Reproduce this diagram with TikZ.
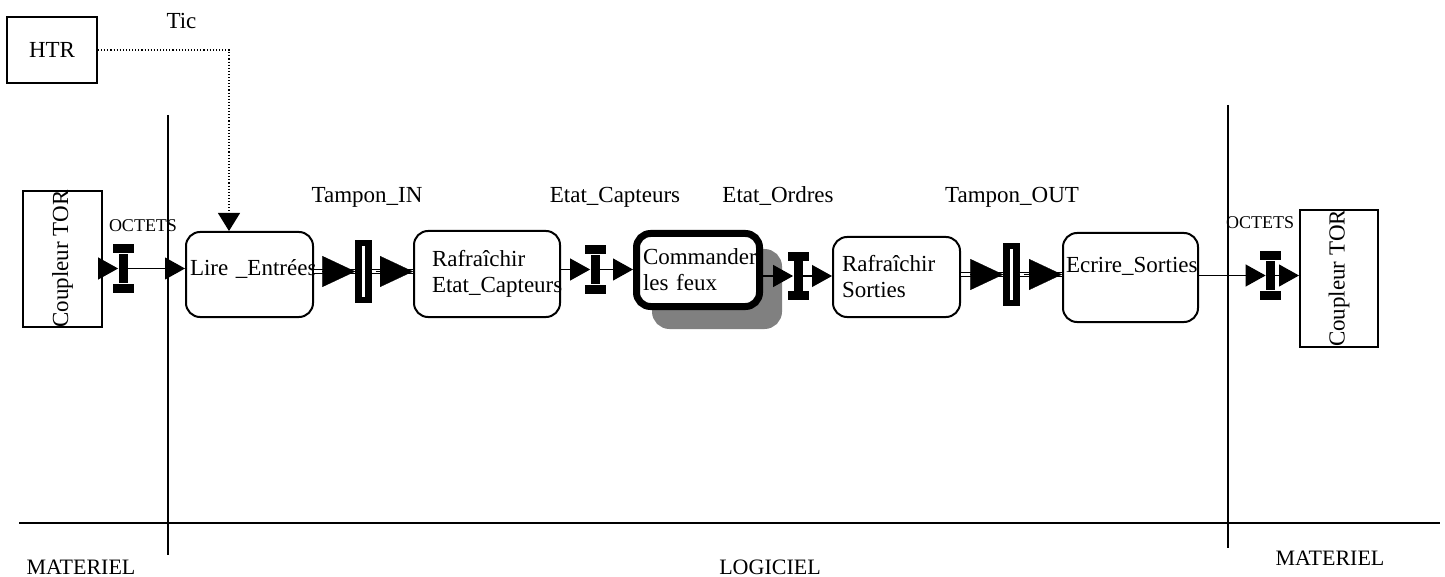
\documentclass[tikz,border=0pt]{standalone}
\usepackage{fontspec}
\setmainfont{Liberation Serif}
\usetikzlibrary{arrows.meta,shadows}
\definecolor{shadowgray}{HTML}{808080}

\begin{document}
\begin{tikzpicture}[x=0.5pt, y=-0.5pt,
    every node/.style={font=\fontsize{11.5}{13}\selectfont},
    block/.style={draw, line width=1pt, inner sep=0pt},
    proc/.style={draw, fill=white, line width=1pt, rounded corners=7pt, align=left, inner sep=0pt},
    barcap/.style={fill, minimum width=10.5pt, minimum height=4.5pt, inner sep=0pt},
    ibar/.style={fill, minimum width=4.5pt, minimum height=14.5pt, inner sep=0pt,
        label={[barcap]north:}, label={[barcap]south:}},
    pipebar/.style={draw, fill=white, line width=3.2pt, minimum width=5pt, minimum height=28.5pt, inner sep=0pt},
    flow/.style={line width=0.55pt, -{Triangle[length=10pt, width=11pt]}},
    pipe/.style={double, line width=0.8pt, double distance=1.2pt},
    pipetip/.style={line width=0.1pt, shorten <=5pt, -{Triangle[length=16.5pt, width=15.5pt]}},
    small/.style={font=\fontsize{9}{10}\selectfont},
    zone/.style={font=\fontsize{11}{12}\selectfont, anchor=base},
  ]
  \useasboundingbox (0,0) rectangle (1445,577);

  % horloge
  \node[block, minimum width=45pt, minimum height=33pt] (htr) at (52,50) {HTR};
  \node[anchor=base] (tic) at (181.5,29) {Tic};

  % coupleurs
  \node[block, minimum width=39.5pt, minimum height=54pt] (cplL) at (62.5,259) {\rotatebox{90}{Coupleur TOR}};
  \node[block, minimum width=39pt, minimum height=66.5pt] (cplR) at (1339,278.5) {\rotatebox{90}{Coupleur TOR}};

  % taches
  \node[proc, minimum width=63.5pt, minimum height=42.5pt, text width=59.5pt] (lire) at (249.5,274.5) {\raisebox{7pt}{Lire \_Entrées}};
  \node[proc, minimum width=73pt, minimum height=43pt, text width=55pt] (rafE) at (487,274) {Rafraîchir\\\mbox{Etat\_Capteurs}};
  \node[proc, line width=3.5pt, minimum width=61.5pt, minimum height=36.5pt, text width=55pt,
      drop shadow={shadow xshift=9.5pt, shadow yshift=-9.5pt, fill=shadowgray, draw=shadowgray, line width=3.5pt, opacity=1}]
      (cmd) at (698,270) {Commander\\les feux};
  \node[proc, minimum width=63.5pt, minimum height=40pt, text width=54.5pt] (rafS) at (896.5,277) {Rafraîchir\\Sorties};
  \node[proc, minimum width=67.5pt, minimum height=44.5pt, text width=64.5pt] (ecr) at (1130.5,277.5) {\mbox{Ecrire\_Sorties}\\\mbox{}};

  % donnees
  \node[ibar] (octIn) at (123,268.5) {};
  \node[pipebar] (tampIn) at (363.5,271.5) {};
  \node[ibar] (capt) at (595,269.5) {};
  \node[ibar] (ord) at (798,276) {};
  \node[pipebar] (tampOut) at (1011.5,274.5) {};
  \node[ibar] (octOut) at (1270.5,275.5) {};

  \node[small, anchor=base] (octInLbl) at (143,232) {OCTETS};
  \node[anchor=base] (tampInLbl) at (367,203) {Tampon\_IN};
  \node[anchor=base] (captLbl) at (615,203) {Etat\_Capteurs};
  \node[anchor=base] (ordLbl) at (778,203) {Etat\_Ordres};
  \node[anchor=base] (tampOutLbl) at (1012,203) {Tampon\_OUT};
  \node[small, anchor=base] (octOutLbl) at (1260,228) {OCTETS};

  % flux
  \draw[line width=0.55pt, densely dotted, -{Triangle[length=9pt, width=11pt]}] (htr.east) -| ([xshift=-10.25pt]lire.north);
  \draw[flow] (cplL.east |- octIn) -- (octIn);
  \draw[flow] (octIn) -- (lire.west |- octIn);
  \draw[pipe] (lire.east |- tampIn) -- (tampIn.west);
  \draw[pipetip] (lire.east |- tampIn) -- (tampIn.west);
  \draw[pipe] (tampIn.east) -- (rafE.west |- tampIn);
  \draw[pipetip, shorten <=2pt] (tampIn.east) -- (rafE.west |- tampIn);
  \draw[flow] (rafE.east |- capt) -- (capt);
  \draw[flow] (capt) -- (cmd.west |- capt);
  \draw[flow] (cmd.east |- ord) -- (ord);
  \draw[flow] (ord) -- (rafS.west |- ord);
  \draw[pipe] (rafS.east |- tampOut) -- (tampOut.west);
  \draw[pipetip] (rafS.east |- tampOut) -- (tampOut.west);
  \draw[pipe] (tampOut.east) -- (ecr.west |- tampOut);
  \draw[pipetip, shorten <=2pt] (tampOut.east) -- (ecr.west |- tampOut);
  \draw[flow] (ecr.east |- octOut) -- (octOut);
  \draw[flow] (octOut) -- (cplR.west |- octOut);

  % frontieres materiel / logiciel
  \draw[line width=1.1pt] (168,115) -- (168,555);
  \draw[line width=1.1pt] (1228,105) -- (1228,548);
  \draw[line width=1.1pt] (19,523) -- (1440,523);
  \node[zone] (matL) at (81,574) {MATERIEL};
  \node[zone] (logi) at (770,574) {LOGICIEL};
  \node[zone] (matR) at (1330,565) {MATERIEL};
\end{tikzpicture}
\end{document}
